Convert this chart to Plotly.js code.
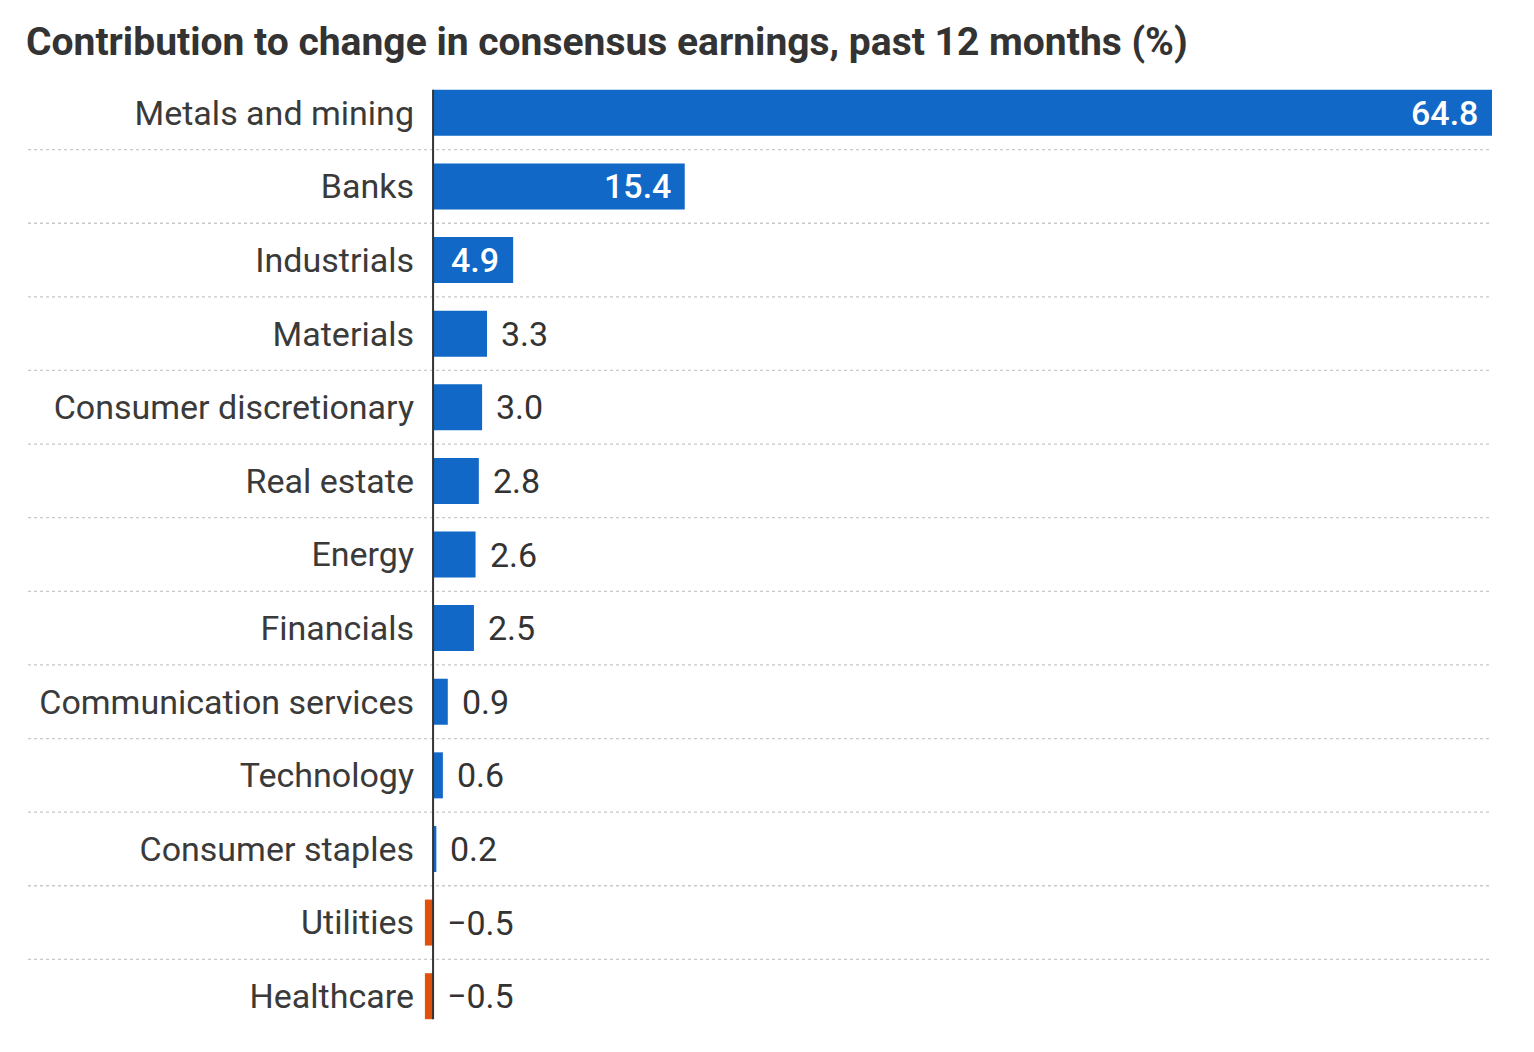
<!DOCTYPE html>
<html>
<head>
<meta charset="utf-8">
<script src="https://cdn.plot.ly/plotly-3.0.1.min.js"></script>
<style>
  html, body { margin: 0; padding: 0; background: #fff; }
  #chart { width: 1534px; height: 1052px; }
</style>
</head>
<body>
<div id="chart"></div>
<script>
const categories = [
  "Metals and mining", "Banks", "Industrials", "Materials",
  "Consumer discretionary", "Real estate", "Energy", "Financials",
  "Communication services", "Technology", "Consumer staples",
  "Utilities", "Healthcare"
];
const values = [64.8, 15.4, 4.9, 3.3, 3.0, 2.8, 2.6, 2.5, 0.9, 0.6, 0.2, -0.5, -0.5];
const titleText = "Contribution to change in consensus earnings, past 12 months (%)";

const BLUE = "#1168c7";
const ORANGE = "#e0520b";
const TEXT = "#333333";
const FONT = "Roboto, 'Noto Sans', sans-serif";
const INSIDE_MIN = 4; // values at or above this get a white label inside the bar

const fmt = v => v.toFixed(1).replace("-", "\u2212");

const trace = {
  type: "bar",
  orientation: "h",
  x: values,
  y: categories,
  marker: { color: values.map(v => v < 0 ? ORANGE : BLUE), line: { width: 0 } },
  hoverinfo: "none",
  cliponaxis: false
};

const annotations = values.map((v, i) => {
  const inside = v >= INSIDE_MIN;
  return {
    x: inside ? v : Math.max(v, 0),
    y: categories[i],
    xref: "x", yref: "y",
    text: fmt(v),
    showarrow: false,
    xanchor: inside ? "right" : "left",
    yanchor: "middle",
    xshift: inside ? -12 : 12,
    font: { family: FONT, size: 34, color: inside ? "#ffffff" : TEXT, weight: inside ? 500 : 400 }
  };
});

const half = 0.3125;
const shapes = [];
for (let i = 0; i < categories.length - 1; i++) {
  shapes.push({
    type: "line", xref: "paper", yref: "y",
    x0: (28 - 420) / 1072, x1: 1,
    y0: i + 0.5, y1: i + 0.5,
    line: { color: "#c8c8c8", width: 1.3, dash: "dot" },
    layer: "below"
  });
}
shapes.push({
  type: "line", xref: "x", yref: "y",
  x0: 0, x1: 0, y0: -half, y1: categories.length - 1 + half,
  line: { color: "#333333", width: 2 },
  layer: "above"
});

const layout = {
  width: 1534, height: 1052,
  margin: { l: 420, r: 42, t: 76, b: 19, pad: 0 },
  paper_bgcolor: "#ffffff", plot_bgcolor: "#ffffff",
  showlegend: false,
  bargap: 0.375,
  title: {
    text: "<b>" + titleText + "</b>",
    xref: "container", yref: "container",
    x: 26 / 1534, xanchor: "left",
    y: 1 - 41 / 1052, yanchor: "middle",
    font: { family: FONT, size: 39, color: TEXT }
  },
  xaxis: {
    range: [-0.8, 64.8],
    showgrid: false, zeroline: false, showticklabels: false,
    showline: false, ticks: "", fixedrange: true
  },
  yaxis: {
    type: "category",
    autorange: "reversed",
    showgrid: false, zeroline: false, showline: false,
    ticks: "", ticklabelstandoff: 5,
    tickfont: { family: FONT, size: 34, color: "#3a3a3a" },
    fixedrange: true
  },
  annotations: annotations,
  shapes: shapes,
  font: { family: FONT, color: TEXT }
};

Plotly.newPlot("chart", [trace], layout, { displayModeBar: false, staticPlot: true });
</script>
</body>
</html>
